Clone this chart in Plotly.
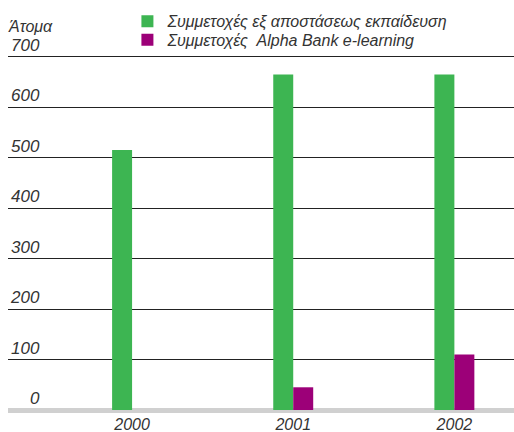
import plotly.graph_objects as go

years = ["2000", "2001", "2002"]
distance_learning = [515, 665, 665]
elearning = [0, 45, 110]
y_ticks = [0, 100, 200, 300, 400, 500, 600, 700]
y_ticktext = [str(v).rjust(3, "\u2007") for v in y_ticks]
series_names = ["Συμμετοχές εξ αποστάσεως εκπαίδευση", "Συμμετοχές  Alpha Bank e-learning"]
y_title = "Άτομα"

font_fam = "Liberation Sans, Arial, sans-serif"
txt_col = "#333333"

fig = go.Figure()
fig.add_trace(go.Bar(x=years, y=distance_learning, name=series_names[0],
                     legend="legend", showlegend=True,
                     marker=dict(color="#3db552", line=dict(width=0))))
fig.add_trace(go.Bar(x=years, y=elearning, name=series_names[1],
                     legend="legend2", showlegend=True,
                     marker=dict(color="#9c0078", line=dict(width=0))))

leg_common = dict(xanchor="left", yanchor="top", yref="container",
                  bgcolor="rgba(0,0,0,0)",
                  font=dict(size=16, style="italic", color=txt_col),
                  itemwidth=30)

fig.update_layout(
    width=514, height=432,
    showlegend=True,
    margin=dict(l=8, r=0, t=34, b=22, autoexpand=False),
    paper_bgcolor="white", plot_bgcolor="white",
    barmode="group", bargap=0.752, bargroupgap=0,
    font=dict(family=font_fam, color=txt_col, size=16, style="italic"),
    legend=dict(x=0.236, y=0.99, **leg_common),
    legend2=dict(x=0.236, y=0.947, **leg_common),
    xaxis=dict(type="category", range=[-0.77, 2.37], showgrid=False,
               showline=False, ticks="", zeroline=False, automargin=False,
               ticklabelstandoff=3,
               tickfont=dict(size=16, style="italic", color=txt_col)),
    yaxis=dict(range=[0, 745], tickvals=y_ticks, ticktext=y_ticktext,
               showgrid=True, gridcolor="#222222", gridwidth=1,
               zeroline=True, zerolinecolor="#d0d0d0", zerolinewidth=5,
               showline=False, ticks="", automargin=False,
               ticklabelposition="inside top",
               tickfont=dict(size=17, style="italic", color=txt_col)),
    annotations=[dict(text=y_title, x=-0.004, y=1.02, xref="paper", yref="paper",
                      xanchor="left", yanchor="middle", showarrow=False,
                      font=dict(size=16, style="italic", color=txt_col))],
)

fig.write_html("out.html", config={"displayModeBar": False},
               post_script="document.body.style.margin='0';document.body.style.padding='0';")
